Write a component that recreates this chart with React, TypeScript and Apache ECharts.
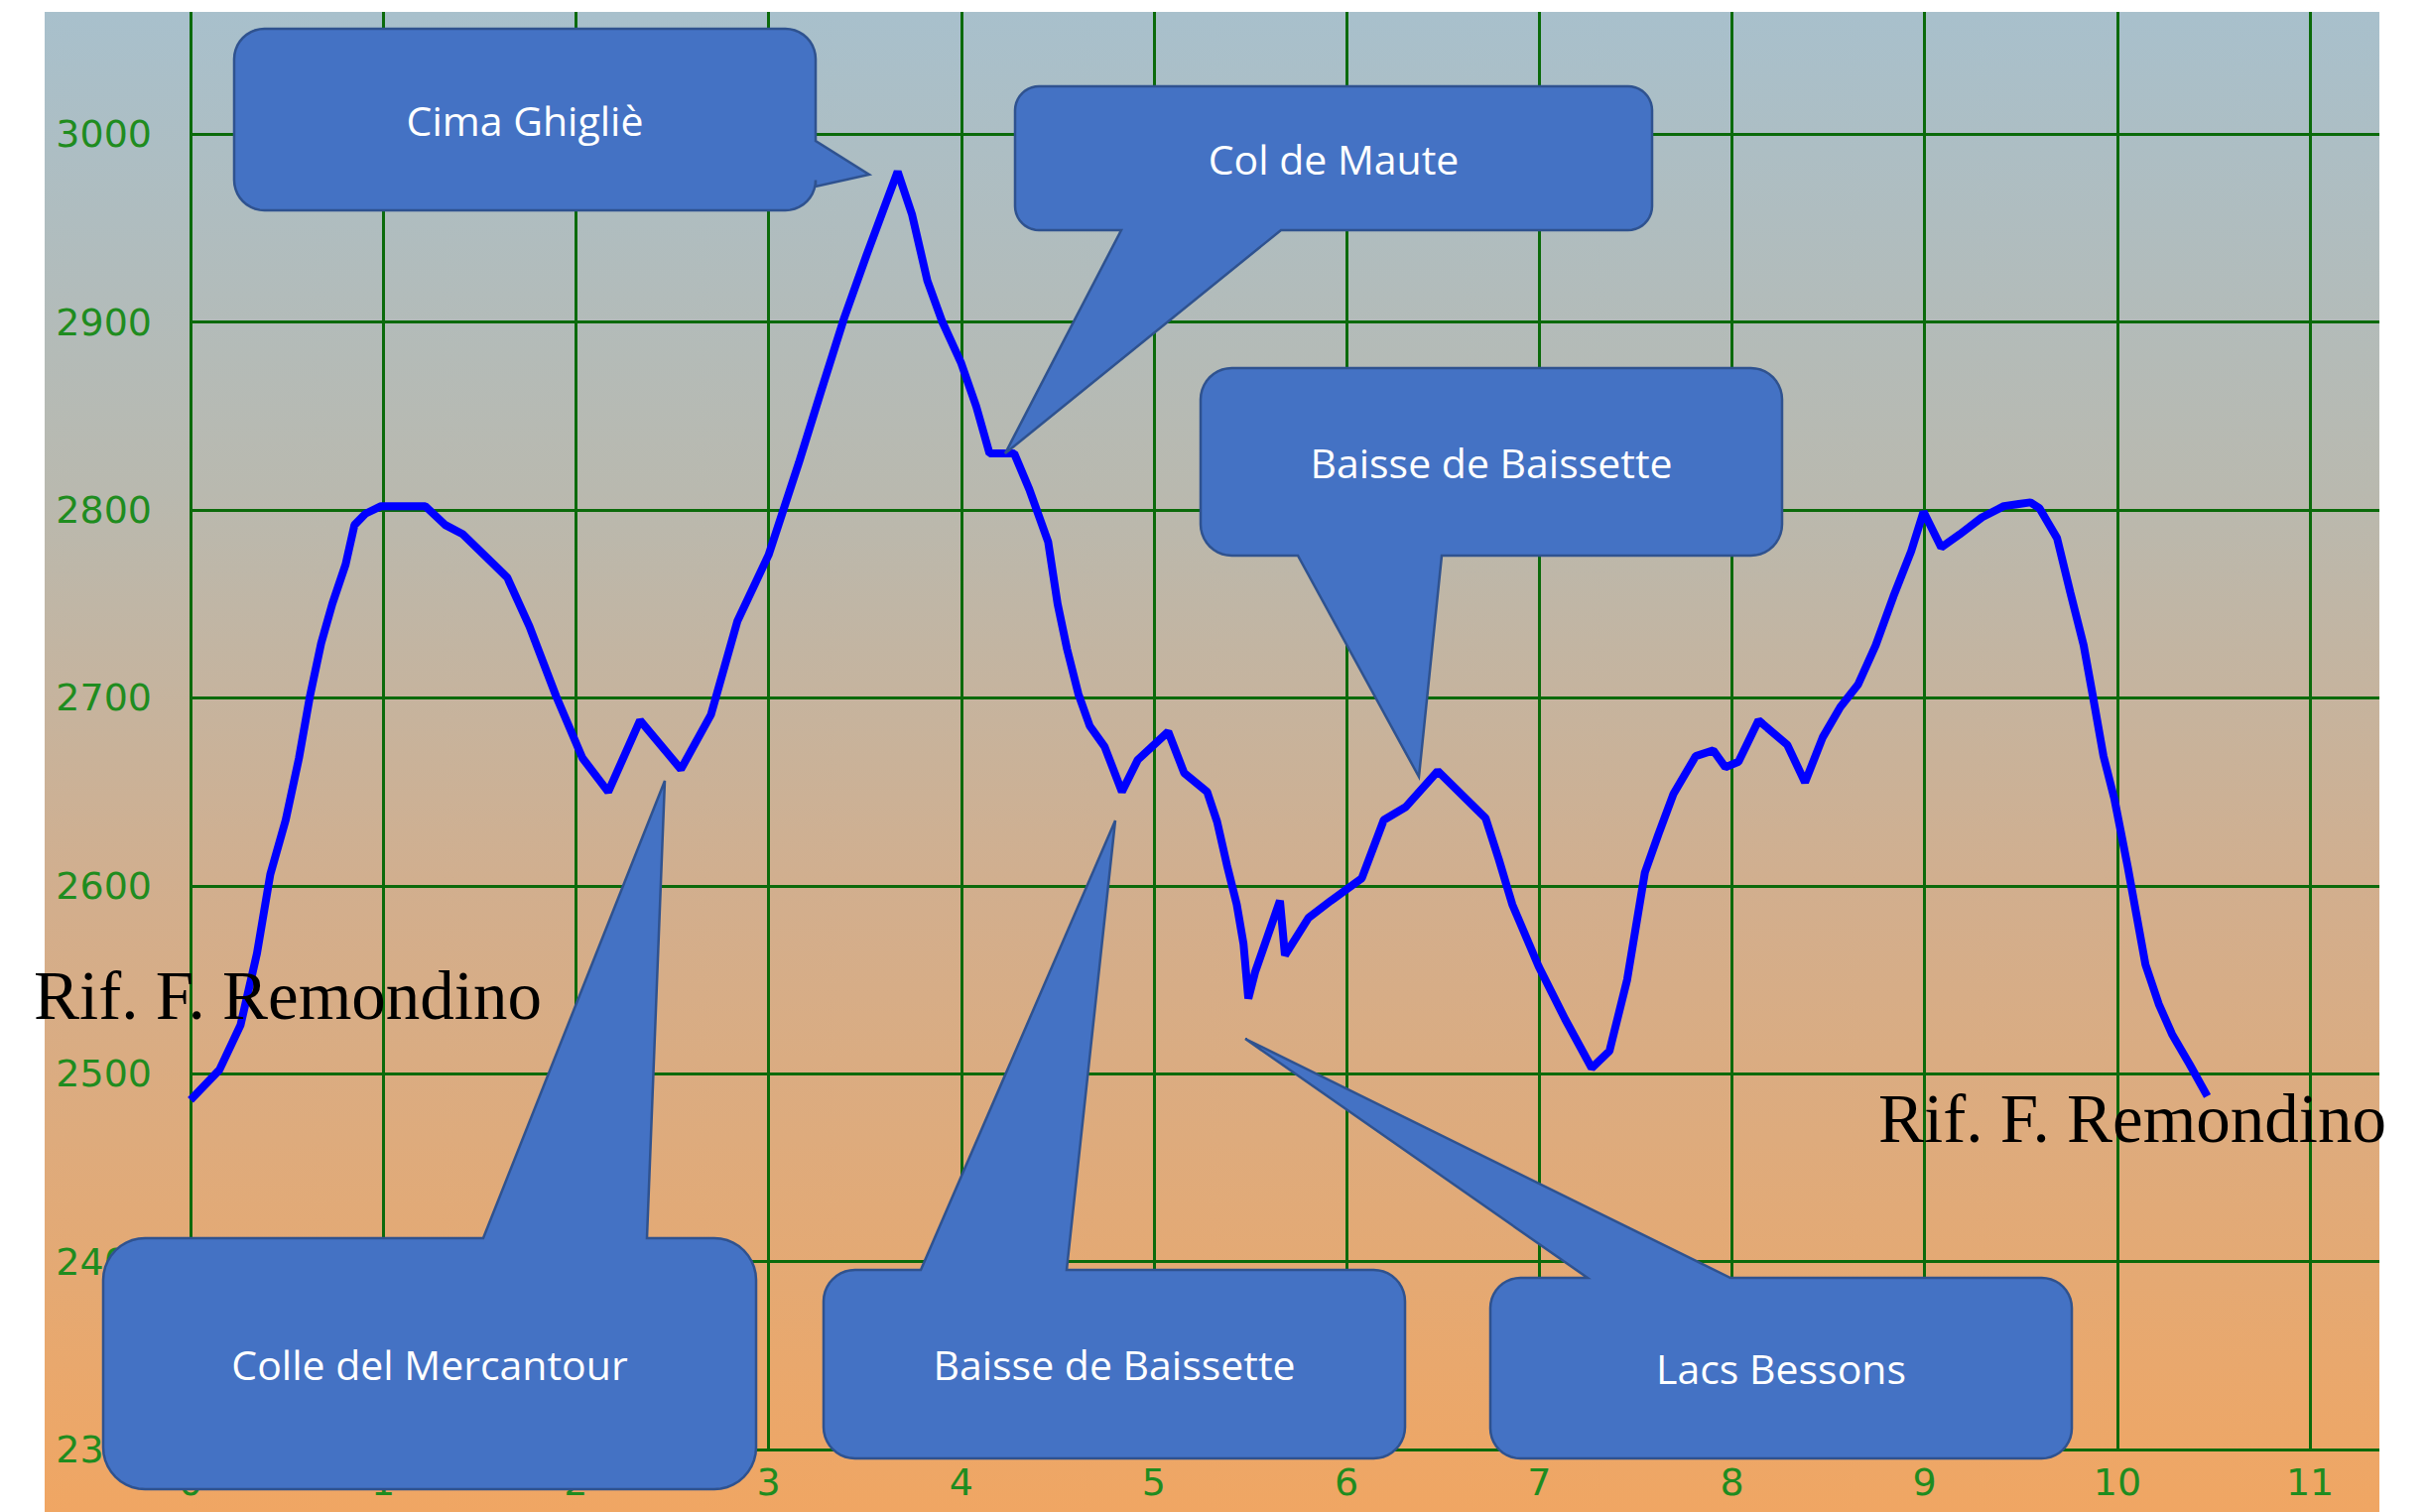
import React, { useEffect, useRef } from "react";
import * as echarts from "echarts";

// Distance along the route (km) and elevation (m)
const distanceKm = [
  0, 0.15, 0.26, 0.345, 0.414, 0.494, 0.563, 0.62, 0.678, 0.736, 0.805, 0.851, 0.908, 0.989,
  1.218, 1.322, 1.414, 1.644, 1.759, 1.897, 2.034, 2.168, 2.333, 2.545, 2.701, 2.839, 3.0,
  3.157, 3.275, 3.392, 3.51, 3.608, 3.67, 3.745, 3.824, 3.902, 4.0, 4.078, 4.147, 4.275,
  4.353, 4.451, 4.5, 4.549, 4.608, 4.667, 4.744, 4.834, 4.916, 5.074, 5.157, 5.276, 5.328,
  5.379, 5.43, 5.465, 5.49, 5.525, 5.654, 5.68, 5.803, 5.918, 6.079, 6.193, 6.308, 6.473,
  6.721, 6.79, 6.86, 6.997, 7.134, 7.272, 7.364, 7.456, 7.548, 7.617, 7.697, 7.812, 7.903,
  7.966, 8.034, 8.138, 8.287, 8.379, 8.471, 8.562, 8.654, 8.746, 8.838, 8.93, 8.994, 9.086,
  9.182, 9.297, 9.411, 9.549, 9.595, 9.687, 9.756, 9.825, 9.871, 9.928, 9.985, 10.054, 10.1,
  10.146, 10.215, 10.284, 10.375, 10.467,
];
const elevationM = [
  2486, 2502, 2526, 2564, 2606, 2635, 2668, 2701, 2729, 2750, 2771, 2792, 2798, 2802,
  2802, 2792, 2787, 2764, 2738, 2701, 2668, 2650, 2688, 2662, 2691, 2741, 2776,
  2825, 2864, 2902, 2936, 2963, 2980, 2957, 2922, 2900, 2878, 2855, 2830, 2830,
  2811, 2783, 2750, 2726, 2702, 2685, 2674, 2650, 2667, 2682, 2660, 2650, 2634,
  2611, 2590, 2569, 2540, 2554, 2592, 2563, 2583, 2592, 2604, 2635, 2642, 2661,
  2636, 2614, 2590, 2557, 2529, 2503, 2512, 2550, 2607, 2627, 2649, 2669, 2672,
  2663, 2666, 2688, 2675, 2655, 2679, 2695, 2707, 2728, 2754, 2778, 2799, 2780,
  2787, 2796, 2802, 2804, 2801, 2785, 2756, 2728, 2702, 2669, 2646, 2610, 2584,
  2558, 2537, 2521, 2505, 2488,
];

const calloutLabels = [
  "Cima Ghigliè",
  "Col de Maute",
  "Baisse de Baissette",
  "Colle del Mercantour",
  "Baisse de Baissette",
  "Lacs Bessons",
];
const endpointLabel = "Rif. F. Remondino";

// Layout of the callouts (pixels): box [x0,y0,x1,y1], edge of tail, tail base, tail tip
const calloutLayout = [
  { box: [236, 29, 822, 212], edge: "right", base: [142, 188], tip: [876, 176] },
  { box: [1023, 87, 1665, 232], edge: "bottom", base: [1130, 1291], tip: [1013, 457] },
  { box: [1210, 371, 1796, 560], edge: "bottom", base: [1308, 1453], tip: [1430, 783] },
  { box: [104, 1248, 762, 1501], edge: "top", base: [487, 652], tip: [670, 787] },
  { box: [830, 1280, 1416, 1470], edge: "top", base: [928, 1075], tip: [1124, 827] },
  { box: [1502, 1288, 2088, 1470], edge: "top", base: [1600, 1744], tip: [1255, 1047] },
];

function calloutPoints(c: any) {
  const [x0, y0, x1, y1] = c.box;
  const r = Math.min(x1 - x0, y1 - y0) / 6;
  const [a, b] = c.base;
  const pts: number[][] = [];
  const arc = (cx: number, cy: number, s: number, e: number) => {
    for (let i = 0; i <= 10; i++) {
      const t = s + ((e - s) * i) / 10;
      pts.push([cx + r * Math.cos(t), cy + r * Math.sin(t)]);
    }
  };
  arc(x0 + r, y0 + r, Math.PI, 1.5 * Math.PI);
  if (c.edge === "top") pts.push([a, y0], c.tip, [b, y0]);
  arc(x1 - r, y0 + r, 1.5 * Math.PI, 2 * Math.PI);
  if (c.edge === "right") pts.push([x1, a], c.tip, [x1, b]);
  arc(x1 - r, y1 - r, 0, 0.5 * Math.PI);
  if (c.edge === "bottom") pts.push([b, y1], c.tip, [a, y1]);
  arc(x0 + r, y1 - r, 0.5 * Math.PI, Math.PI);
  return pts;
}

export default function App() {
  const ref = useRef<HTMLDivElement>(null);
  useEffect(() => {
    if (!ref.current) return;
    const chart = echarts.init(ref.current, undefined, { renderer: "svg" });
    const gridColor = "#0b6a0b";
    const labelColor = "#1f8c1f";
    const graphics: any[] = [
      {
        type: "rect",
        z: -10,
        silent: true,
        shape: { x: 45, y: 12, width: 2353, height: 1512 },
        style: {
          fill: new echarts.graphic.LinearGradient(0, 0, 0, 1, [
            { offset: 0, color: "#a8c0cc" },
            { offset: 0.32, color: "#b9b9af" },
            { offset: 0.6, color: "#d3ae8c" },
            { offset: 1, color: "#f0a663" },
          ]),
        },
      },
    ];
    calloutLayout.forEach((c, i) => {
      const [x0, y0, x1, y1] = c.box;
      graphics.push({
        type: "polygon",
        z: 100,
        shape: { points: calloutPoints(c) },
        style: { fill: "#4472c4", stroke: "#2f528f", lineWidth: 2.5 },
      });
      graphics.push({
        type: "text",
        z: 101,
        x: (x0 + x1) / 2,
        y: (y0 + y1) / 2,
        style: {
          text: calloutLabels[i],
          fill: "#ffffff",
          font: '41px "Open Sans"',
          align: "center",
          verticalAlign: "middle",
        },
      });
    });
    [
      [34, 1004],
      [1893, 1128],
    ].forEach(([x, y]) => {
      graphics.push({
        type: "text",
        z: 102,
        x,
        y,
        style: {
          text: endpointLabel,
          fill: "#000000",
          font: '69px "Liberation Serif"',
          align: "left",
          verticalAlign: "middle",
        },
      });
    });

    const plain = (v: number) => String(v);
    chart.setOption({
      animation: false,
      grid: { left: 192, top: 12, width: 2206, height: 1449, containLabel: false },
      xAxis: {
        type: "value",
        min: 0,
        max: 11.36,
        interval: 1,
        axisLine: { show: false },
        axisTick: { show: false },
        axisLabel: {
          color: labelColor,
          fontSize: 38,
          fontFamily: "DejaVu Sans",
          margin: 14,
          showMaxLabel: false,
          formatter: plain,
        },
        splitLine: { show: true, showMaxLine: false, lineStyle: { color: gridColor, width: 3 } },
      },
      yAxis: {
        type: "value",
        min: 2300,
        max: 3065,
        interval: 100,
        axisLine: { show: false },
        axisTick: { show: false },
        axisLabel: {
          color: labelColor,
          fontSize: 38,
          fontFamily: "DejaVu Sans",
          margin: 39,
          showMaxLabel: false,
          formatter: plain,
        },
        splitLine: { show: true, showMaxLine: false, lineStyle: { color: gridColor, width: 3 } },
      },
      series: [
        {
          type: "line",
          data: distanceKm.map((d, i) => [d, elevationM[i]]),
          showSymbol: false,
          symbol: "none",
          lineStyle: { color: "#0000ff", width: 8 },
          z: 5,
        },
      ],
      graphic: graphics,
    });
    return () => chart.dispose();
  }, []);
  return (
    <div
      ref={ref}
      style={{ position: "absolute", left: 0, top: 0, width: "2449px", height: "1524px" }}
    />
  );
}
